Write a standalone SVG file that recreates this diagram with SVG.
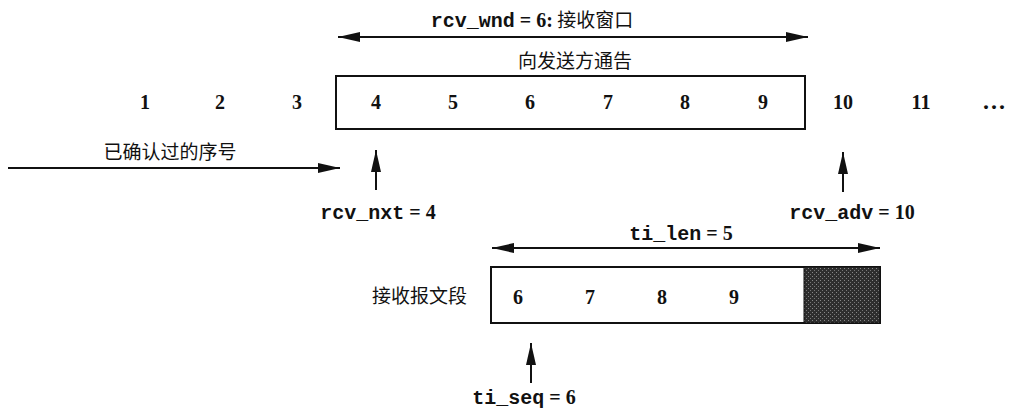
<svg xmlns="http://www.w3.org/2000/svg" width="1015" height="411" viewBox="0 0 1015 411">
<style>
.num{font-family:"Liberation Serif",serif;font-weight:bold;font-size:20px;text-anchor:middle;fill:#111}
.mono{font-family:"Liberation Mono",monospace;font-weight:bold;font-size:20px;fill:#111}
.ser{font-family:"Liberation Serif",serif;font-weight:bold;font-size:20px;fill:#111}
.cjk{font-family:"Noto Sans CJK SC","Noto Sans",sans-serif;font-size:19px;fill:#111}
.box{fill:#fff;stroke:#111;stroke-width:2}
.ln{stroke:#111;stroke-width:2;fill:none}
</style>
<defs>
<marker id="ah" viewBox="0 0 22 10" refX="22" refY="5" markerWidth="22" markerHeight="10" markerUnits="userSpaceOnUse" orient="auto-start-reverse">
<path d="M0,0 L22,5 L0,10 Z" fill="#111"/>
</marker>
<pattern id="dots" width="4" height="4" patternUnits="userSpaceOnUse">
<rect width="4" height="4" fill="#2e2e2e"/>
<rect x="0" y="0" width="1" height="1" fill="#888"/>
<rect x="2" y="2" width="1" height="1" fill="#777"/>
</pattern>
</defs>
<rect width="1015" height="411" fill="#fff"/>
<g id="window-box">
<rect class="box" x="336" y="76" width="469" height="53"/>
</g>
<g id="numbers">
<text class="num" x="145" y="109">1</text>
<text class="num" x="220" y="109">2</text>
<text class="num" x="297" y="109">3</text>
<text class="num" x="376" y="109">4</text>
<text class="num" x="453" y="109">5</text>
<text class="num" x="530" y="109">6</text>
<text class="num" x="608" y="109">7</text>
<text class="num" x="685" y="109">8</text>
<text class="num" x="763" y="109">9</text>
<text class="num" x="843" y="109">10</text>
<text class="num" x="921" y="109">11</text>
<text class="num" x="995" y="109" style="font-size:24px;letter-spacing:2px">...</text>
</g>
<g id="segment-box">
<rect class="box" x="491" y="267" width="389" height="56"/>
<rect x="804" y="267" width="76" height="56" fill="url(#dots)" stroke="#111" stroke-width="1"/>
<text class="num" x="518" y="304">6</text>
<text class="num" x="590" y="304">7</text>
<text class="num" x="662" y="304">8</text>
<text class="num" x="734" y="304">9</text>
</g>
<g id="labels">
<text x="532" y="27" text-anchor="middle"><tspan class="mono">rcv_wnd</tspan><tspan class="ser"> = 6:</tspan><tspan class="cjk">  接收窗口</tspan></text>
<text class="cjk" x="575" y="68" text-anchor="middle">向发送方通告</text>
<text class="cjk" x="170" y="159" text-anchor="middle">已确认过的序号</text>
<text x="378" y="219" text-anchor="middle"><tspan class="mono">rcv_nxt</tspan><tspan class="ser"> = 4</tspan></text>
<text x="852" y="219" text-anchor="middle"><tspan class="mono">rcv_adv</tspan><tspan class="ser"> = 10</tspan></text>
<text x="681" y="240" text-anchor="middle"><tspan class="mono">ti_len</tspan><tspan class="ser"> = 5</tspan></text>
<text class="cjk" x="467" y="303" text-anchor="end">接收报文段</text>
<text x="524" y="404" text-anchor="middle"><tspan class="mono">ti_seq</tspan><tspan class="ser"> = 6</tspan></text>
</g>
<g id="connectors">
<line class="ln" x1="338" y1="37" x2="808" y2="37" marker-start="url(#ah)" marker-end="url(#ah)"/>
<line class="ln" x1="8" y1="168" x2="340" y2="168" marker-end="url(#ah)"/>
<line class="ln" x1="376" y1="190" x2="376" y2="150" marker-end="url(#ah)"/>
<line class="ln" x1="843" y1="192" x2="843" y2="152" marker-end="url(#ah)"/>
<line class="ln" x1="492" y1="248" x2="880" y2="248" marker-start="url(#ah)" marker-end="url(#ah)"/>
<line class="ln" x1="531" y1="383" x2="531" y2="343" marker-end="url(#ah)"/>
</g>
</svg>
